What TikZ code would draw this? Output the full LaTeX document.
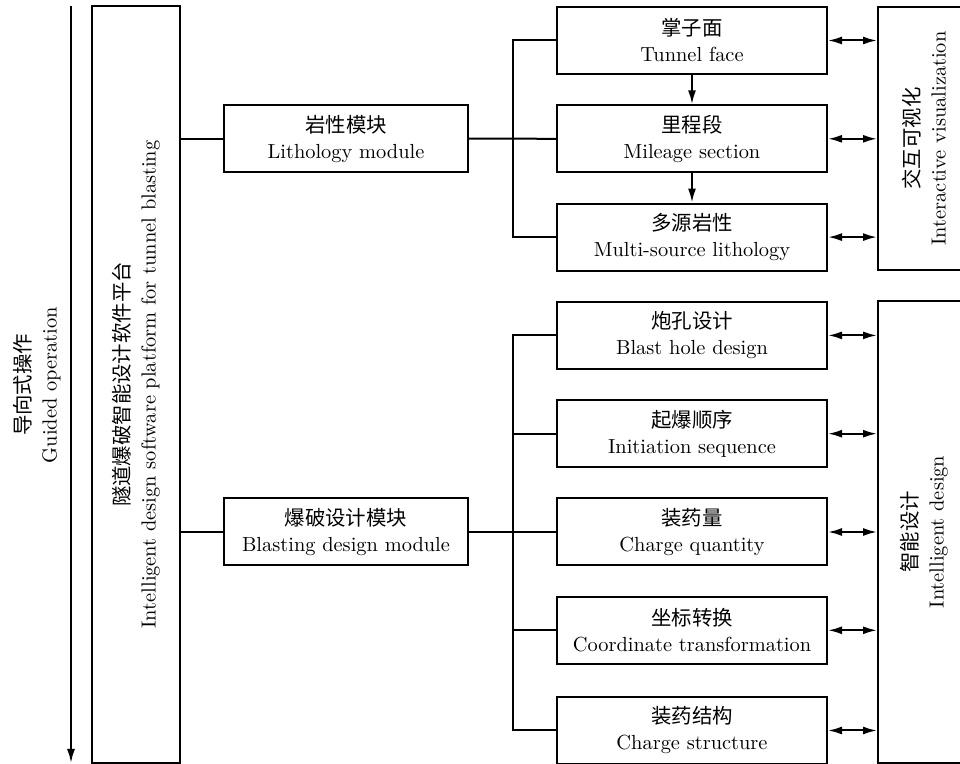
\documentclass[tikz,border=0pt]{standalone}
\usepackage{fontspec}
\newfontfamily\cjk{Noto Sans CJK SC}
\usetikzlibrary{arrows.meta}
\begin{document}
\begin{tikzpicture}[x=0.5pt,y=-0.5pt,
  line width=1pt,
  txt/.style={font=\fontsize{10.2}{13}\selectfont, align=center, inner sep=0pt},
  box/.style={draw, txt, minimum width=135pt, minimum height=33.5pt},
  modbox/.style={draw, txt, minimum width=122pt, minimum height=33.5pt},
  sidebox/.style={draw, minimum width=46pt},
  vtxt/.style={txt, rotate=90},
  tip/.style={-{Latex[length=7pt,width=4pt]}},
  dtip/.style={{Latex[length=7pt,width=4pt]}-{Latex[length=7pt,width=4pt]}}
]
\useasboundingbox (0,0) rectangle (960,764);
\clip (0,0) rectangle (960,764);

% guided operation arrow
\coordinate (gtop) at (71,6);
\coordinate (gbot) at (71,763);
\draw[tip] (gtop) -- (gbot);
\node[vtxt] (guide) at (37,385) {{\cjk 导向式操作}\\Guided operation};

% platform
\node[draw, minimum width=44pt, minimum height=378.5pt] (plat) at (136,384.5) {};
\node[vtxt] (plattxt) at (plat.center) {{\cjk 隧道爆破智能设计软件平台}\\Intelligent design software platform for tunnel blasting};

% modules
\node[modbox] (lith) at (346,138.6) {{\cjk 岩性模块}\\Lithology module};
\node[modbox] (blast) at (346,532) {{\cjk 爆破设计模块}\\Blasting design module};

% right boxes
\node[box] (tf) at (692,40.5)  {{\cjk 掌子面}\\Tunnel face};
\node[box] (mi) at (692,138.8) {{\cjk 里程段}\\Mileage section};
\node[box] (ms) at (692,237.1) {{\cjk 多源岩性}\\Multi-source lithology};
\node[box] (bh) at (692,335.4) {{\cjk 炮孔设计}\\Blast hole design};
\node[box] (is) at (692,433.7) {{\cjk 起爆顺序}\\Initiation sequence};
\node[box] (cq) at (692,532)   {{\cjk 装药量}\\Charge quantity};
\node[box] (ct) at (692,630.3) {{\cjk 坐标转换}\\Coordinate transformation};
\node[box] (cs) at (692,730.5) {{\cjk 装药结构}\\Charge structure};

% side boxes
\node[sidebox, minimum height=131.5pt] (iv) at (924,138.5) {};
\node[vtxt] (ivtxt) at (iv.center) {{\cjk 交互可视化}\\Interactive visualization};
\node[sidebox, minimum height=231pt] (idb) at (924,532) {};
\node[vtxt] (idtxt) at (idb.center) {{\cjk 智能设计}\\Intelligent design};

% trunk x position
\coordinate (tx) at (513,0);

% platform to modules
\draw (plat.east |- lith.west) -- (lith.west);
\draw (plat.east |- blast.west) -- (blast.west);

% upper group
\draw (tf.west) -- (tf.west -| tx) -- (ms.west -| tx) -- (ms.west);
\draw (lith.east) -- (mi.west);
\draw[tip] (tf.south) -- (mi.north);
\draw[tip] (mi.south) -- (ms.north);

% lower group
\draw (bh.west) -- (bh.west -| tx) -- (cs.west -| tx) -- (cs.west);
\draw (is.west) -- (is.west -| tx);
\draw (blast.east) -- (cq.west);
\draw (ct.west) -- (ct.west -| tx);

% bidirectional arrows
\foreach \b/\s in {tf/iv, mi/iv, ms/iv, bh/idb, is/idb, cq/idb, ct/idb, cs/idb}
  \draw[dtip] (\b.east) -- (\b.east -| \s.west);
\end{tikzpicture}
\end{document}
